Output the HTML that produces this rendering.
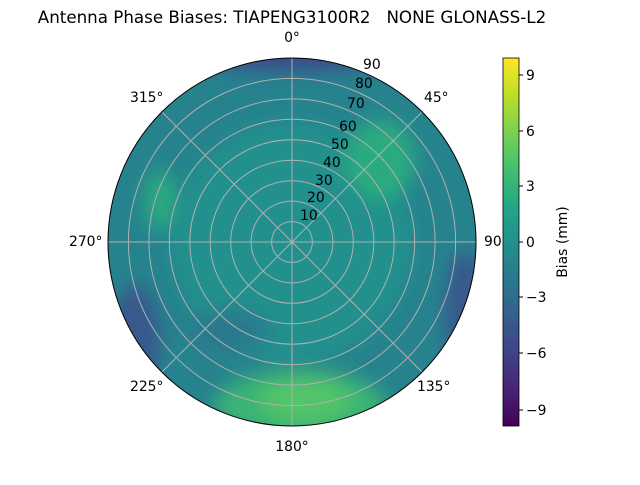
<!DOCTYPE html>
<html><head><meta charset="utf-8"><style>
body{margin:0;background:#fff;}
svg text{font-family:"DejaVu Sans","Liberation Sans",sans-serif;font-size:13.9px;fill:#000;}
</style></head><body>
<svg width="640" height="480" viewBox="0 0 640 480">
<defs>
<clipPath id="c"><circle cx="292" cy="242" r="184"/></clipPath>
<filter id="b" x="-50%" y="-50%" width="200%" height="200%"><feGaussianBlur stdDeviation="9"/></filter>
<linearGradient id="cb" x1="0" y1="1" x2="0" y2="0">
<stop offset="0" stop-color="#440154"/><stop offset="0.1" stop-color="#482475"/>
<stop offset="0.2" stop-color="#414487"/><stop offset="0.3" stop-color="#355f8d"/>
<stop offset="0.4" stop-color="#2a788e"/><stop offset="0.5" stop-color="#21918c"/>
<stop offset="0.6" stop-color="#22a884"/><stop offset="0.7" stop-color="#44bf70"/>
<stop offset="0.8" stop-color="#7ad151"/><stop offset="0.9" stop-color="#bddf26"/>
<stop offset="1" stop-color="#fde725"/></linearGradient>
</defs>
<text x="292" y="23" text-anchor="middle" style="font-size:16.7px;white-space:pre">Antenna Phase Biases: TIAPENG3100R2   NONE GLONASS-L2</text>
<g clip-path="url(#c)">
<rect x="100" y="50" width="390" height="390" fill="#26838e"/>
<g filter="url(#b)">
<circle cx="292" cy="242" r="120" fill="#21908d"/>
<ellipse cx="300" cy="405" rx="85" ry="35" fill="#3bb475"/>
<ellipse cx="305" cy="400" rx="45" ry="22" fill="#52c468"/>
<ellipse cx="380" cy="160" rx="35" ry="40" fill="#2cab7f"/>
<ellipse cx="160" cy="200" rx="15" ry="30" fill="#2cab7f"/>
<ellipse cx="292" cy="55" rx="110" ry="16" fill="#3e4c8a"/>
<ellipse cx="135" cy="340" rx="25" ry="55" fill="#38588c"/>
<ellipse cx="465" cy="310" rx="20" ry="60" fill="#38588c"/>
<ellipse cx="230" cy="330" rx="40" ry="20" fill="#2a788e"/>
</g>
</g>
<g fill="none" stroke="#b0b0b0" stroke-width="1">
<circle cx="292" cy="242" r="20.4"/><circle cx="292" cy="242" r="40.9"/>
<circle cx="292" cy="242" r="61.3"/><circle cx="292" cy="242" r="81.8"/>
<circle cx="292" cy="242" r="102.2"/><circle cx="292" cy="242" r="122.7"/>
<circle cx="292" cy="242" r="143.1"/><circle cx="292" cy="242" r="163.6"/>
<line x1="292" y1="58" x2="292" y2="426"/><line x1="108" y1="242" x2="476" y2="242"/>
<line x1="162" y1="112" x2="422" y2="372"/><line x1="422" y1="112" x2="162" y2="372"/>
</g>
<circle cx="292" cy="242" r="184" fill="none" stroke="#000" stroke-width="1"/>
<g>
<text x="300" y="220">10</text><text x="307" y="202">20</text><text x="315" y="185">30</text>
<text x="323" y="167">40</text><text x="331" y="149">50</text><text x="339" y="131">60</text>
<text x="347" y="108">70</text><text x="355" y="88">80</text><text x="363" y="69">90</text>
</g>
<text x="292" y="42" text-anchor="middle">0°</text>
<text x="424" y="102">45°</text>
<text x="484" y="246">90°</text>
<text x="417" y="391">135°</text>
<text x="292" y="451" text-anchor="middle">180°</text>
<text x="130" y="391">225°</text>
<text x="69" y="246">270°</text>
<text x="130" y="102">315°</text>
<rect x="503" y="58" width="16" height="368" fill="url(#cb)"/>
<rect x="503" y="58" width="16" height="368" fill="none" stroke="#000" stroke-width="0.8"/>
<g stroke="#000"><line x1="519" y1="75" x2="523" y2="75"/><line x1="519" y1="131" x2="523" y2="131"/>
<line x1="519" y1="186" x2="523" y2="186"/><line x1="519" y1="242" x2="523" y2="242"/>
<line x1="519" y1="297" x2="523" y2="297"/><line x1="519" y1="353" x2="523" y2="353"/>
<line x1="519" y1="410" x2="523" y2="410"/></g>
<text x="526" y="80">9</text><text x="526" y="136">6</text><text x="526" y="191">3</text>
<text x="526" y="247">0</text><text x="526" y="302">−3</text><text x="526" y="358">−6</text>
<text x="526" y="415">−9</text>
<text transform="translate(567,242) rotate(-90)" text-anchor="middle">Bias (mm)</text>
</svg>
</body></html>
